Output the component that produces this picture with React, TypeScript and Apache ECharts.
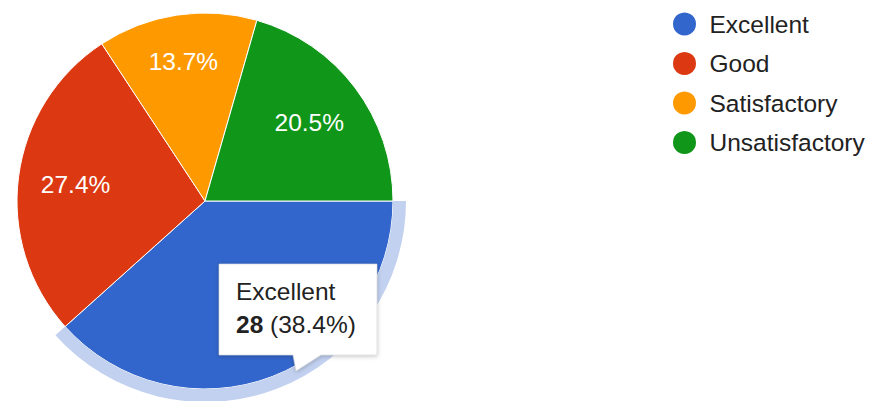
import React, { useEffect, useRef } from "react";
import * as echarts from "echarts";

const categories = ["Excellent", "Good", "Satisfactory", "Unsatisfactory"];
const values = [28, 20, 10, 15];
const colors = ["#3366cc", "#dc3912", "#ff9900", "#109618"];
const highlightIndex = 0;

const FONT = 'Arial, "Liberation Sans", sans-serif';

export default function App() {
  const ref = useRef<HTMLDivElement>(null);
  useEffect(() => {
    if (!ref.current) return;
    const chart = echarts.init(ref.current, undefined, { renderer: "svg" });
    const total = values.reduce((a, b) => a + b, 0);
    const hlName = categories[highlightIndex];
    const hlVal = values[highlightIndex];
    const hlPct = ((hlVal / total) * 100).toFixed(1);

    const center = [205, 201];

    chart.setOption({
      animation: false,
      backgroundColor: "#ffffff",
      color: colors,
      legend: {
        data: categories,
        orient: "vertical",
        left: 671,
        top: 10.5,
        padding: 0,
        icon: "circle",
        itemWidth: 40,
        itemHeight: 25,
        itemGap: 12.5,
        selectedMode: false,
        textStyle: { fontSize: 24.5, color: "#222222", fontFamily: FONT },
      },
      series: [
        {
          type: "pie",
          name: "main",
          center,
          radius: [0, 188],
          startAngle: 0,
          clockwise: true,
          percentPrecision: 1,
          silent: true,
          z: 1,
          label: { show: false },
          labelLine: { show: false },
          itemStyle: { borderColor: "#ffffff", borderWidth: 1 },
          data: categories.map((c, i) => ({
            name: c,
            value: values[i],
            itemStyle: { color: colors[i] },
          })),
        },
        {
          type: "pie",
          name: "ring",
          center,
          radius: [188, 201],
          startAngle: 0,
          clockwise: true,
          silent: true,
          z: 1,
          label: { show: false },
          labelLine: { show: false },
          data: categories.map((c, i) => ({
            name: c,
            value: values[i],
            itemStyle: { color: i === highlightIndex ? "#c2d1f0" : "transparent" },
          })),
        },
        {
          type: "pie",
          name: "labels",
          center,
          radius: [0, 255],
          startAngle: 0,
          clockwise: true,
          percentPrecision: 1,
          silent: true,
          z: 2,
          avoidLabelOverlap: false,
          labelLine: { show: false },
          itemStyle: { color: "transparent" },
          label: {
            show: true,
            position: "inside",
            formatter: "{d}%",
            color: "#ffffff",
            fontSize: 24.5,
            fontFamily: FONT,
          },
          data: categories.map((c, i) => ({
            name: c,
            value: values[i],
            itemStyle: { color: "transparent" },
            label:
              i === highlightIndex
                ? { show: false }
                : i === 2
                ? { offset: [-2, -10] }
                : undefined,
          })),
        },
      ],
      graphic: [
        {
          type: "polygon",
          z: 100,
          zlevel: 1,
          shape: {
            points: [
              [219, 264],
              [377, 264],
              [377, 355],
              [321, 355],
              [296, 371],
              [293, 355],
              [219, 355],
            ],
          },
          style: {
            fill: "#ffffff",
            stroke: "#d0d0d0",
            lineWidth: 0.6,
            shadowBlur: 4,
            shadowColor: "rgba(0,0,0,0.25)",
            shadowOffsetY: 1,
          },
        },
        {
          type: "text",
          z: 101,
          zlevel: 1,
          x: 236,
          y: 291.5,
          style: {
            text: hlName,
            fontSize: 24.5,
            fontFamily: FONT,
            fill: "#222222",
            verticalAlign: "middle",
          },
        },
        {
          type: "text",
          z: 101,
          zlevel: 1,
          x: 236,
          y: 324.5,
          style: {
            text: `{b|${hlVal}} (${hlPct}%)`,
            fontSize: 24.5,
            fontFamily: FONT,
            fill: "#222222",
            verticalAlign: "middle",
            rich: {
              b: { fontWeight: "bold", fontSize: 24.5, fontFamily: FONT, fill: "#222222" },
            },
          },
        },
      ],
    });
    return () => chart.dispose();
  }, []);

  return (
    <div
      ref={ref}
      style={{ position: "fixed", left: 0, top: 0, width: 875, height: 401, background: "#fff" }}
    />
  );
}
